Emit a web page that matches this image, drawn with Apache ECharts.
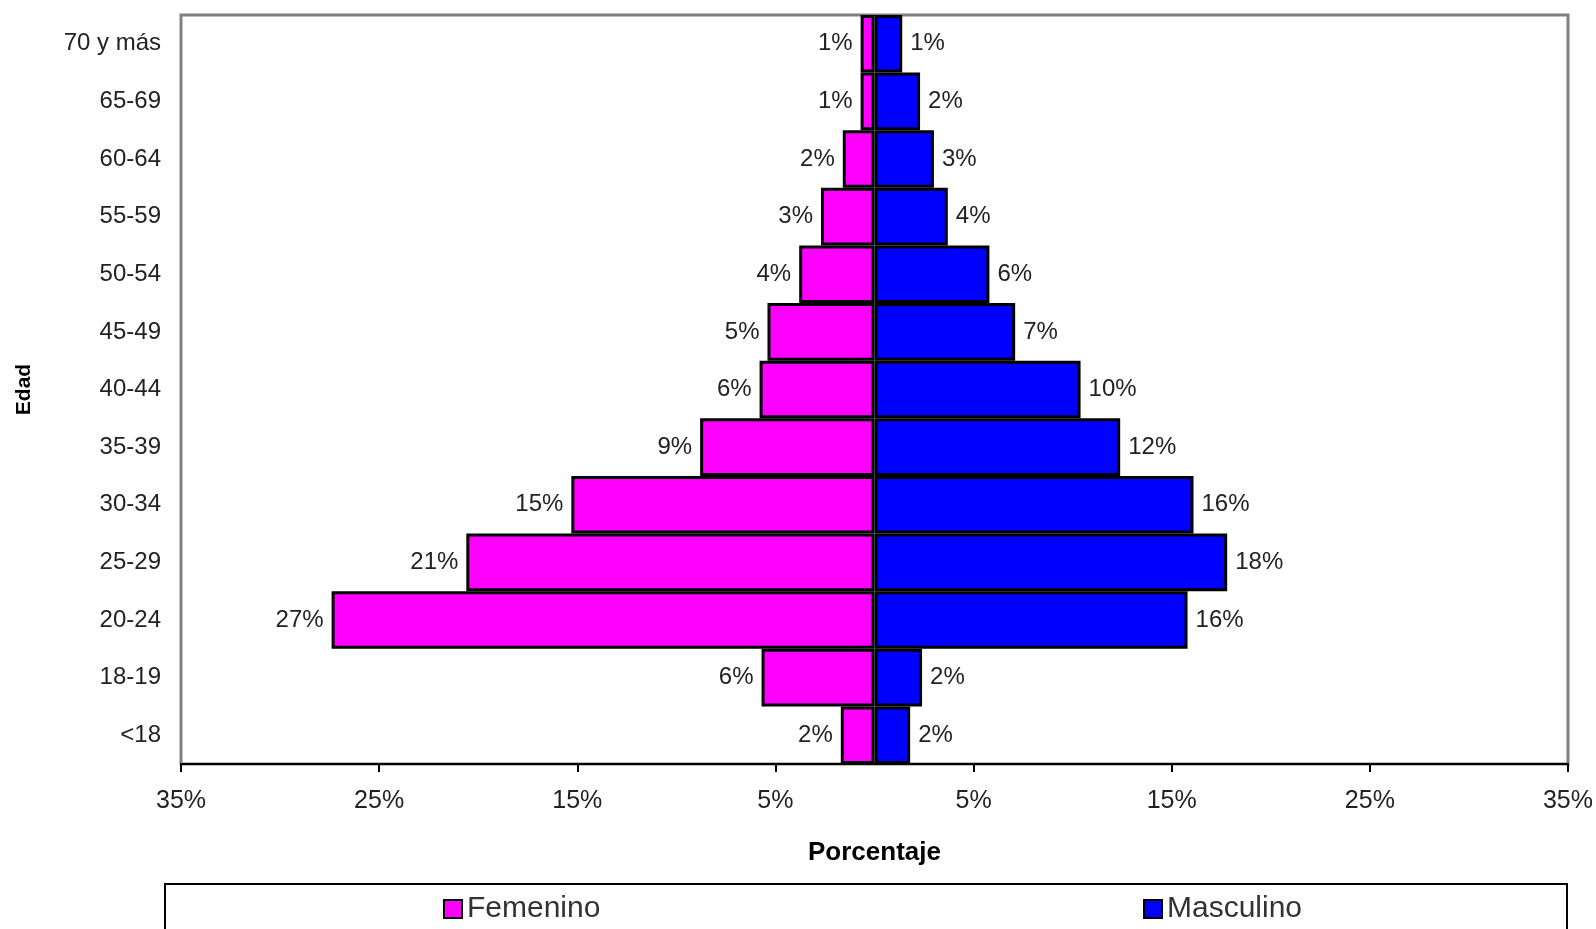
<!DOCTYPE html>
<html>
<head>
<meta charset="utf-8">
<title>Edad por sexo</title>
<script src="https://cdn.jsdelivr.net/npm/echarts@6/dist/echarts.min.js"></script>
<style>
  html, body { margin: 0; padding: 0; background: #ffffff; }
  #chart { width: 1596px; height: 929px; }
</style>
</head>
<body>
<div id="chart"></div>
<script>
// Age groups, bottom to top
const ageGroups = ['<18', '18-19', '20-24', '25-29', '30-34', '35-39', '40-44',
                   '45-49', '50-54', '55-59', '60-64', '65-69', '70 y más'];

// Share of each sex in each age group (%)
const femenino  = [1.7, 5.7, 27.4, 20.6, 15.3, 8.8, 5.8, 5.4, 3.8, 2.7, 1.6, 0.7, 0.7];
const masculino = [1.8, 2.4, 15.8, 17.8, 16.1, 12.4, 10.4, 7.1, 5.8, 3.7, 3.0, 2.3, 1.4];

// Axis range and tick step (%)
const axisMin = -35;
const axisMax = 35;
const axisStep = 10;

const FONT = '"Liberation Sans", Arial, sans-serif';
const pct = v => Math.round(Math.abs(v)) + '%';

const chart = echarts.init(document.getElementById('chart'));

chart.setOption({
  animation: false,
  backgroundColor: '#ffffff',
  textStyle: { fontFamily: FONT },
  grid: {
    left: 181, right: 28, top: 15, bottom: 165,
    show: true,
    borderColor: '#808080',
    borderWidth: 3,
    backgroundColor: 'transparent'
  },
  xAxis: {
    type: 'value',
    min: axisMin,
    max: axisMax,
    interval: axisStep,
    name: 'Porcentaje',
    nameLocation: 'middle',
    nameGap: 76,
    nameTextStyle: { fontFamily: FONT, fontSize: 26, fontWeight: 'bold', color: '#000' },
    axisLine: { show: true, lineStyle: { color: '#000', width: 2 } },
    axisTick: { show: true, length: 8, lineStyle: { color: '#000', width: 2 } },
    axisLabel: {
      formatter: v => Math.abs(v) + '%',
      fontFamily: FONT, fontSize: 25, color: '#222', margin: 25
    },
    splitLine: { show: false }
  },
  yAxis: {
    type: 'category',
    data: ageGroups,
    name: 'Edad',
    nameLocation: 'middle',
    nameRotate: 90,
    nameGap: 146,
    nameTextStyle: { fontFamily: FONT, fontSize: 21, fontWeight: 'bold', color: '#000' },
    axisLine: { show: false },
    axisTick: { show: false },
    axisLabel: { fontFamily: FONT, fontSize: 24, color: '#222', margin: 20 },
    splitLine: { show: false }
  },
  legend: [
    {
      data: ['Femenino'],
      left: 438, top: 889,
      icon: 'rect',
      itemWidth: 18, itemHeight: 18, itemGap: 8,
      textStyle: { fontFamily: FONT, fontSize: 30, color: '#333' },
      itemStyle: { borderColor: '#000', borderWidth: 2 }
    },
    {
      data: ['Masculino'],
      left: 1138, top: 889,
      icon: 'rect',
      itemWidth: 18, itemHeight: 18, itemGap: 8,
      textStyle: { fontFamily: FONT, fontSize: 30, color: '#333' },
      itemStyle: { borderColor: '#000', borderWidth: 2 }
    }
  ],
  graphic: [
    {
      type: 'rect',
      silent: true,
      z: -1,
      shape: { x: 165, y: 884, width: 1402, height: 80 },
      style: { fill: '#ffffff', stroke: '#000', lineWidth: 2 }
    }
  ],
  series: [
    {
      name: 'Femenino',
      type: 'bar',
      data: femenino.map(v => -v),
      barGap: '-100%',
      barCategoryGap: 0,
      itemStyle: { color: '#FF00FF', borderColor: '#000', borderWidth: 3 },
      label: {
        show: true, position: 'left', distance: 8,
        formatter: p => pct(p.value),
        fontFamily: FONT, fontSize: 24, color: '#222'
      }
    },
    {
      name: 'Masculino',
      type: 'bar',
      data: masculino,
      barGap: '-100%',
      barCategoryGap: 0,
      itemStyle: { color: '#0000FF', borderColor: '#000', borderWidth: 3 },
      label: {
        show: true, position: 'right', distance: 8,
        formatter: p => pct(p.value),
        fontFamily: FONT, fontSize: 24, color: '#222'
      }
    }
  ]
});
</script>
</body>
</html>
